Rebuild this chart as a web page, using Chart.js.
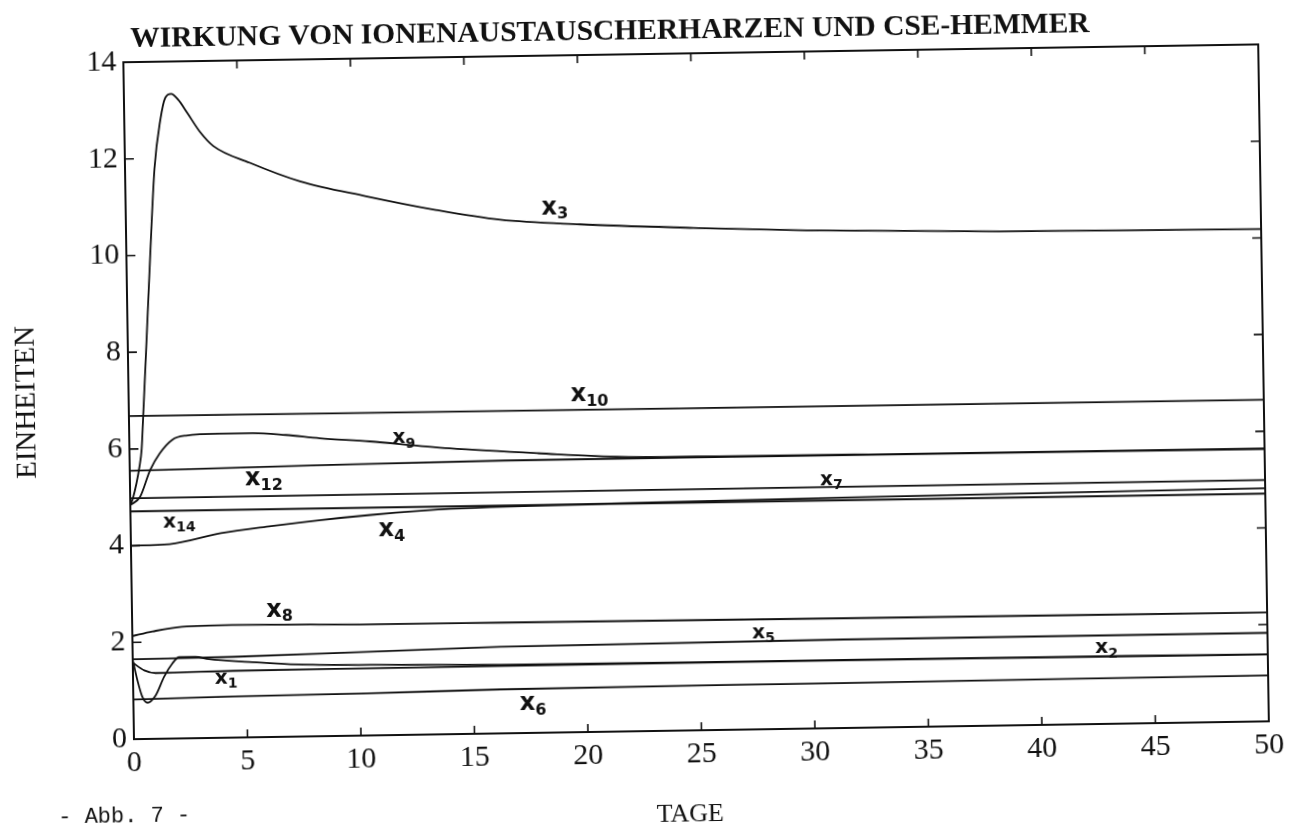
<!DOCTYPE html>
<html>
<head>
<meta charset="utf-8">
<title>Wirkung von Ionenaustauscherharzen und CSE-Hemmer</title>
<script src="https://cdn.jsdelivr.net/npm/chart.js@4.4.1/dist/chart.umd.min.js"></script>
<style>
  html, body { margin: 0; padding: 0; background: #ffffff; overflow: hidden; }
  #sheet { width: 1302px; height: 837px; transform: rotate(-0.9deg); transform-origin: 651px 418px; }
  canvas { display: block; }
</style>
</head>
<body>
<div id="sheet"><canvas id="chart" width="1302" height="837"></canvas></div>
<script>
// Axis ticks
const dayTicks = [0, 5, 10, 15, 20, 25, 30, 35, 40, 45, 50];
const unitTicks = [0, 2, 4, 6, 8, 10, 12, 14];

// Simulated state variables over time (Tage -> Einheiten)
const x3Days = [0, 0.12, 0.43, 0.54, 0.62, 0.8, 1.05, 1.3, 1.59, 1.82, 2.08, 2.4, 2.77, 3.35, 3.9, 5.5, 7.7, 10.6, 13.6, 16.5, 20, 25, 30, 38.5, 50];
const x3 = [4.84, 4.98, 5.63, 6.0, 6.6, 8.0, 10.0, 11.8, 12.8, 13.25, 13.33, 13.2, 12.94, 12.52, 12.24, 11.88, 11.48, 11.15, 10.85, 10.62, 10.5, 10.39, 10.3, 10.22, 10.18];

const x10Days = [0, 25, 50];
const x10 = [6.68, 6.66, 6.65];

const x9Days = [0, 0.44, 0.9, 1.33, 1.9, 2.5, 3.97, 5.44, 6.9, 8.4, 10.6, 12.8, 14.1, 18, 21.7, 26, 32.6, 50];
const x9 = [4.84, 5.01, 5.56, 5.9, 6.18, 6.26, 6.29, 6.29, 6.24, 6.16, 6.08, 5.97, 5.91, 5.78, 5.68, 5.66, 5.65, 5.64];

const x12Days = [0, 8, 16.5, 25, 50];
const x12 = [5.55, 5.6, 5.64, 5.645, 5.635];

const x7Days = [0, 50];
const x7 = [4.98, 4.99];

const x14Days = [0, 50];
const x14 = [4.71, 4.71];

const x4Days = [0, 1.7, 3.97, 6.2, 8.4, 10.6, 12.8, 14.1, 22, 32.6, 50];
const x4 = [4.0, 4.02, 4.23, 4.36, 4.47, 4.56, 4.63, 4.66, 4.72, 4.77, 4.82];

const x8Days = [0, 0.89, 2.2, 4.4, 10.3, 16.2, 31, 50];
const x8 = [2.13, 2.22, 2.31, 2.33, 2.3, 2.29, 2.27, 2.25];

const x5Days = [0, 4.4, 10.3, 16.2, 31.7, 50];
const x5 = [1.65, 1.67, 1.73, 1.79, 1.83, 1.83];

const x2Days = [0, 0.19, 0.4, 0.62, 0.99, 1.37, 1.74, 2.04, 2.76, 3.36, 5.12, 7.3, 10.3, 16.2, 25, 31.7, 40, 50];
const x2 = [1.64, 1.22, 0.87, 0.75, 0.9, 1.28, 1.55, 1.68, 1.68, 1.63, 1.56, 1.49, 1.46, 1.42, 1.41, 1.41, 1.4, 1.39];

const x1Days = [0, 0.5, 1.0, 4.4, 10.3, 16.2, 31.7, 50];
const x1 = [1.58, 1.42, 1.36, 1.38, 1.39, 1.395, 1.4, 1.385];

const x6Days = [0, 4.4, 10.3, 16.2, 30, 50];
const x6 = [0.82, 0.85, 0.87, 0.91, 0.93, 0.95];

// Hand-written curve names placed next to their lines
const noteNames = ['3', '10', '9', '12', '7', '14', '4', '8', '5', '2', '1', '6'];
const noteDays = [18.9, 20.3, 12.1, 5.9, 30.9, 2.15, 11.5, 6.5, 27.8, 42.9, 4.1, 17.6];
const noteUnits = [10.85, 6.97, 6.14, 5.34, 5.14, 4.48, 4.24, 2.62, 1.99, 1.57, 1.23, 0.61];
const noteLarge = [true, true, false, true, false, false, true, true, false, false, false, true];

const INK = '#111111';
const SERIF = '"Liberation Serif", "DejaVu Serif", serif';

const series = [
  ['X3', x3Days, x3], ['X10', x10Days, x10], ['X9', x9Days, x9], ['X12', x12Days, x12],
  ['X7', x7Days, x7], ['X14', x14Days, x14], ['X4', x4Days, x4], ['X8', x8Days, x8],
  ['X5', x5Days, x5], ['X2', x2Days, x2], ['X1', x1Days, x1], ['X6', x6Days, x6]
];

const datasets = series.map(([name, days, vals]) => ({
  label: name,
  data: days.map((d, i) => ({ x: d, y: vals[i] })),
  borderColor: INK,
  borderWidth: 1.8,
  pointRadius: 0,
  fill: false,
  cubicInterpolationMode: 'monotone'
}));

const paperText = {
  id: 'paperText',
  afterDraw(chart) {
    const { ctx, chartArea: a, scales: { x, y } } = chart;
    ctx.save();
    // frame around the plot
    ctx.strokeStyle = INK;
    ctx.lineWidth = 2;
    ctx.strokeRect(a.left, a.top, a.right - a.left, a.bottom - a.top);
    // inward tick marks on all four sides
    ctx.lineWidth = 1.6;
    ctx.beginPath();
    dayTicks.forEach(v => {
      const px = x.getPixelForValue(v);
      ctx.moveTo(px, a.bottom); ctx.lineTo(px, a.bottom - 8);
      ctx.moveTo(px, a.top); ctx.lineTo(px, a.top + 8);
    });
    unitTicks.forEach(v => {
      const py = y.getPixelForValue(v);
      ctx.moveTo(a.left, py); ctx.lineTo(a.left + 9, py);
      ctx.moveTo(a.right, py); ctx.lineTo(a.right - 9, py);
    });
    ctx.stroke();

    // heading
    ctx.fillStyle = INK;
    ctx.textAlign = 'center';
    ctx.textBaseline = 'middle';
    ctx.font = 'bold 29.5px ' + SERIF;
    ctx.fillText('WIRKUNG VON IONENAUSTAUSCHERHARZEN UND CSE-HEMMER', 616, 31);

    // x axis caption
    ctx.font = '26px ' + SERIF;
    ctx.fillText('TAGE', 684, 815);

    // figure number
    ctx.font = '22px "Liberation Mono", "DejaVu Sans Mono", monospace';
    ctx.fillText('- Abb. 7 -', 118, 808);

    // curve names
    noteNames.forEach((n, i) => {
      const px = x.getPixelForValue(noteDays[i]);
      const py = y.getPixelForValue(noteUnits[i]);
      const big = noteLarge[i];
      const main = 'bold ' + (big ? 24 : 20) + 'px "DejaVu Sans", sans-serif';
      const sub = 'bold ' + (big ? 16 : 14) + 'px "DejaVu Sans", sans-serif';
      ctx.textAlign = 'left';
      ctx.textBaseline = 'middle';
      ctx.font = main;
      const wx = ctx.measureText('x').width;
      ctx.font = sub;
      const subW = ctx.measureText(n).width;
      const left = px - (wx + subW) / 2;
      ctx.font = main;
      ctx.fillText('x', left, py);
      ctx.font = sub;
      ctx.fillText(n, left + wx, py + (big ? 7 : 6));
    });
    ctx.restore();
  }
};

new Chart(document.getElementById('chart'), {
  type: 'line',
  data: { datasets },
  options: {
    responsive: false,
    animation: false,
    devicePixelRatio: 1,
    layout: { padding: { top: 54, right: 38, left: 0, bottom: 0 } },
    plugins: { legend: { display: false }, tooltip: { enabled: false }, title: { display: false } },
    scales: {
      x: {
        type: 'linear', min: 0, max: 50,
        afterBuildTicks: s => { s.ticks = dayTicks.map(v => ({ value: v })); },
        afterFit: s => { s.height = 106; },
        grid: { display: false, drawTicks: false },
        border: { display: false },
        ticks: { color: INK, padding: 6, maxRotation: 0, autoSkip: false, font: { family: SERIF, size: 30 } },
        title: { display: false }
      },
      y: {
        type: 'linear', min: 0, max: 14,
        afterBuildTicks: s => { s.ticks = unitTicks.map(v => ({ value: v })); },
        afterFit: s => { s.width = 129; },
        grid: { display: false, drawTicks: false },
        border: { display: false },
        ticks: { color: INK, padding: 7, font: { family: SERIF, size: 30 } },
        title: { display: true, text: 'EINHEITEN', color: INK, font: { family: SERIF, size: 29 }, padding: { top: 10, bottom: 0 } }
      }
    }
  },
  plugins: [paperText]
});
</script>
</body>
</html>
